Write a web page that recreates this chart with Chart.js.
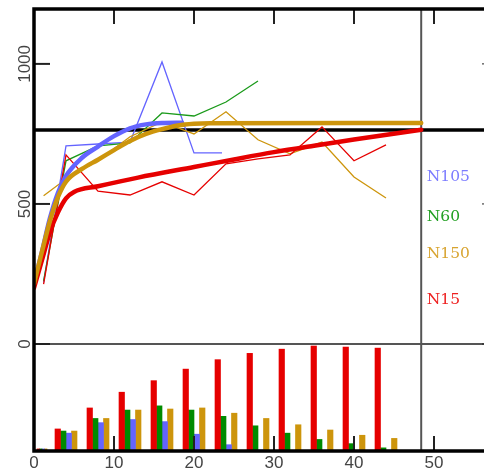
<!DOCTYPE html>
<html>
<head>
<meta charset="utf-8">
<script src="https://cdn.jsdelivr.net/npm/chart.js@4.4.0/dist/chart.umd.min.js"></script>
<style>
  html, body { margin: 0; padding: 0; background: #fff; }
  #wrap { width: 484px; height: 473px; }
</style>
</head>
<body>
<div id="wrap"><canvas id="growthChart"></canvas></div>
<script>
// observed values per treatment (thin lines)
const sampleX = [1.2, 4, 8, 12, 16, 20, 24, 28, 32, 36, 40, 44];
const obsN15 = [214, 675, 546, 532, 579, 532, 643, 661, 675, 775, 654, 711];
const obsN150 = [529, 589, 654, 740, 793, 750, 829, 729, 679, 721, 596, 521];
const obsN60X = [1.2, 4, 8, 12, 16, 20, 24, 28];
const obsN60 = [225, 654, 707, 718, 825, 814, 864, 939];
const obsN105X = [1.2, 4, 8, 12, 16, 20, 23.5];
const obsN105 = [220, 707, 714, 721, 1007, 682, 682];

// fitted curves (thick lines)
const fitN15X = [0, 1, 2, 3, 4, 5, 8, 13, 20, 25, 30, 35, 40, 48.4];
const fitN15 = [200, 300, 400, 470, 520, 543, 563, 594, 632, 659, 685, 708, 730, 765];
const fitN105X = [0, 1, 2, 3, 4, 6, 8, 10, 12, 14, 16, 18.5];
const fitN105 = [215, 330, 450, 540, 600, 665, 705, 742, 770, 784, 789, 790];
const fitN150X = [0, 1, 2, 3, 4, 6, 8, 10, 12, 14, 16, 18, 20, 22, 48.4];
const fitN150 = [215, 330, 440, 525, 580, 625, 658, 692, 725, 750, 767, 780, 786, 788, 789];

// bars along the bottom
const barX = [1, 4, 8, 12, 16, 20, 24, 28, 32, 36, 40, 44];
const barN15 = [2, 21, 41, 56, 67, 78, 87, 93, 97, 100, 99, 98];
const barN60 = [2, 19, 31, 39, 43, 39, 33, 24, 17, 11, 7, 3];
const barN105 = [2, 17, 27, 30, 28, 16, 6, 1, 0, 0, 0, 0];
const barN150 = [2, 19, 31, 39, 40, 41, 36, 31, 25, 20, 15, 12];

const xTicks = [0, 10, 20, 30, 40, 50];
const yTicks = [0, 500, 1000];
const refLevel = 764;
const refDay = 48.4;

const seriesNames = ['N105', 'N60', 'N150', 'N15'];

const colors = {
    N15: '#e60000',
    N60: '#008b00',
    N105: '#6464ff',
    N150: '#cd950c'
};
const textColors = ['#7c7cff', '#22a022', '#d8a430', '#ee2020'];
const nameY = [596, 454, 321, 157];

function pairs(xs, ys) {
    return xs.map((v, i) => ({ x: v, y: ys[i] }));
}

function thin(label, xs, ys, color) {
    return {
        type: 'line', label: label, data: pairs(xs, ys),
        borderColor: color, borderWidth: 1.3, pointRadius: 0,
        tension: 0, order: 5
    };
}

function thick(label, xs, ys, color, order) {
    return {
        type: 'line', label: label, data: pairs(xs, ys),
        borderColor: color, borderWidth: 4.5, pointRadius: 0,
        cubicInterpolationMode: 'monotone', order: order,
        borderCapStyle: 'round'
    };
}

// bars: first group is narrower than the rest
const barSeries = [['N15', barN15], ['N60', barN60], ['N105', barN105], ['N150', barN150]];
const barDatasets = [];
barSeries.forEach(([name, vals], i) => {
    const wide = 5.5, narrow = 2.5;
    barDatasets.push({
        type: 'bar', label: name + ' bars', yAxisID: 'y2',
        data: barX.slice(1).map((v, k) => ({ x: v + (i - 1.5) * wide / 8, y: vals[k + 1] })),
        backgroundColor: colors[name], barThickness: wide, grouped: false, order: 10
    });
    barDatasets.push({
        type: 'bar', label: name + ' first', yAxisID: 'y2',
        data: [{ x: barX[0] + (i - 1.5) * narrow / 8, y: vals[0] }],
        backgroundColor: colors[name], barThickness: narrow, grouped: false, order: 10
    });
});

function seg(ctx, x1, y1, x2, y2) {
    ctx.beginPath();
    ctx.moveTo(x1, y1);
    ctx.lineTo(x2, y2);
    ctx.stroke();
}

const framePlugin = {
    id: 'frame',
    beforeDatasetsDraw(chart) {
        const { ctx, chartArea: a, scales: { x, y } } = chart;
        ctx.save();
        ctx.lineWidth = 2;
        ctx.strokeStyle = '#555';
        const zy = y.getPixelForValue(0);
        seg(ctx, a.left, zy, a.right, zy);
        const vx = x.getPixelForValue(refDay);
        seg(ctx, vx, a.top, vx, a.bottom);
        ctx.lineWidth = 3.5;
        ctx.strokeStyle = '#000';
        const hy = y.getPixelForValue(refLevel);
        seg(ctx, a.left, hy, a.right, hy);
        ctx.restore();
    },
    afterDraw(chart) {
        const { ctx, chartArea: a, scales: { x, y } } = chart;
        ctx.save();
        // ticks
        ctx.strokeStyle = '#222';
        ctx.lineWidth = 2;
        xTicks.forEach(t => {
            const px = x.getPixelForValue(t);
            seg(ctx, px, a.bottom, px, a.bottom - 15);
            seg(ctx, px, a.top, px, a.top + 15);
        });
        yTicks.forEach(t => {
            const py = y.getPixelForValue(t);
            seg(ctx, a.left, py, a.left + 16, py);
            ctx.lineWidth = 1;
            seg(ctx, a.right - 2, py, a.right, py);
            ctx.lineWidth = 2;
        });
        // frame
        ctx.strokeStyle = '#000';
        ctx.lineWidth = 3.5;
        ctx.beginPath();
        ctx.moveTo(a.right, a.top);
        ctx.lineTo(a.left, a.top);
        ctx.lineTo(a.left, a.bottom);
        ctx.lineTo(a.right, a.bottom);
        ctx.stroke();
        // y labels, rotated
        ctx.fillStyle = '#444';
        ctx.font = '17px "Liberation Sans", Arial, sans-serif';
        ctx.textAlign = 'center';
        ctx.textBaseline = 'alphabetic';
        yTicks.forEach(t => {
            ctx.save();
            ctx.translate(30, y.getPixelForValue(t));
            ctx.rotate(-Math.PI / 2);
            ctx.fillText(String(t), 0, 0);
            ctx.restore();
        });
        // series names
        ctx.font = '15.5px "DejaVu Serif", serif';
        ctx.textAlign = 'left';
        ctx.textBaseline = 'middle';
        seriesNames.forEach((n, i) => {
            ctx.fillStyle = textColors[i];
            ctx.fillText(n, x.getPixelForValue(49.1), y.getPixelForValue(nameY[i]));
        });
        ctx.restore();
    }
};

const ctx = document.getElementById('growthChart').getContext('2d');
const chart = new Chart(ctx, {
    type: 'line',
    data: {
        datasets: [
            thick('N150 fit', fitN150X, fitN150, colors.N150, 1),
            thick('N15 fit', fitN15X, fitN15, colors.N15, 2),
            thick('N105 fit', fitN105X, fitN105, colors.N105, 3),
            thin('N15', sampleX, obsN15, colors.N15),
            thin('N150', sampleX, obsN150, colors.N150),
            thin('N60', obsN60X, obsN60, '#1a9a1a'),
            thin('N105', obsN105X, obsN105, colors.N105),
            ...barDatasets
        ]
    },
    plugins: [framePlugin],
    options: {
        responsive: true,
        maintainAspectRatio: false,
        animation: false,
        layout: { padding: { top: 9, left: 0, right: 0, bottom: 0 } },
        plugins: {
            legend: { display: false },
            tooltip: { enabled: false }
        },
        scales: {
            x: {
                type: 'linear',
                min: 0,
                max: 56.25,
                offset: false,
                grid: { display: false, drawTicks: false },
                border: { display: false },
                afterBuildTicks: scale => { scale.ticks = xTicks.map(v => ({ value: v })); },
                afterFit: scale => { scale.height = 22; },
                ticks: {
                    padding: 2,
                    color: '#444',
                    maxRotation: 0,
                    font: { family: '"Liberation Sans", Arial, sans-serif', size: 17 }
                }
            },
            y: {
                min: -382,
                max: 1196,
                grid: { display: false },
                border: { display: false },
                ticks: { display: false },
                afterFit: scale => { scale.width = 34; }
            },
            y2: {
                display: false,
                min: 0,
                max: 421
            }
        }
    }
});
</script>
</body>
</html>
